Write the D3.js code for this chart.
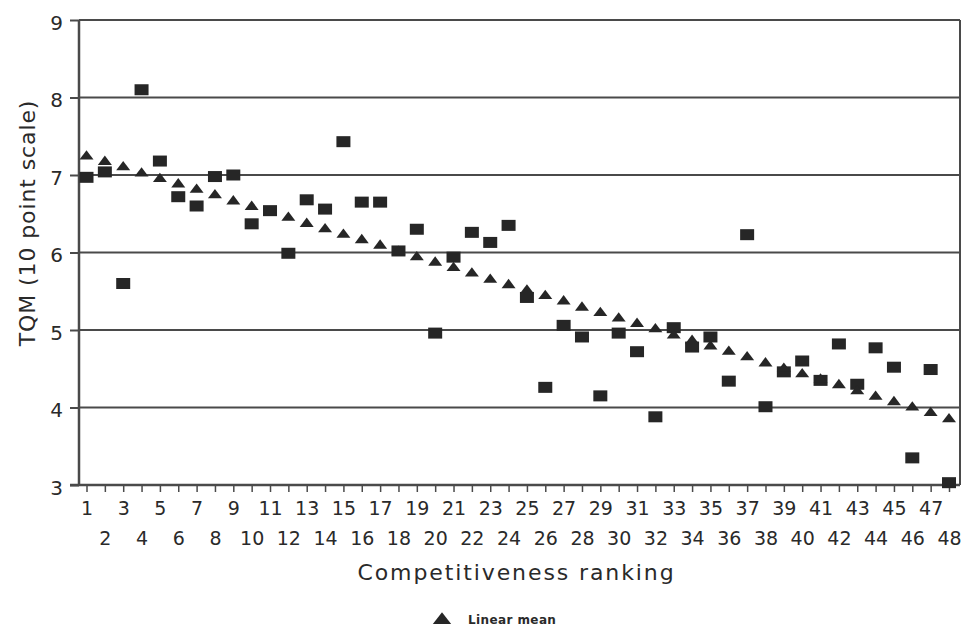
<!DOCTYPE html>
<html>
<head>
<meta charset="utf-8">
<script src="https://cdn.jsdelivr.net/npm/d3@7"></script>
<style>
  body { margin: 0; background: #fff; }
  svg text { font-family: "DejaVu Sans", sans-serif; fill: #2a2a2a; }
</style>
</head>
<body>
<div id="chart-container"></div>
<script>
// CATEGORIES: COMPETITIVENESS RANKING OF EACH COUNTRY
var rankings = [1, 2, 3, 4, 5, 6, 7, 8, 9, 10, 11, 12, 13, 14, 15, 16,
                17, 18, 19, 20, 21, 22, 23, 24, 25, 26, 27, 28, 29, 30, 31, 32,
                33, 34, 35, 36, 37, 38, 39, 40, 41, 42, 43, 44, 45, 46, 47, 48];

// TQM SCORES (SQUARES)
var tqmScores = [6.97, 7.04, 5.60, 8.10, 7.18, 6.72, 6.60, 6.98, 7.00, 6.37, 6.54, 5.99,
                 6.68, 6.56, 7.43, 6.65, 6.65, 6.02, 6.30, 4.96, 5.94, 6.26, 6.13, 6.35,
                 5.42, 4.26, 5.06, 4.91, 4.15, 4.96, 4.72, 3.88, 5.03, 4.78, 4.91, 4.34,
                 6.23, 4.01, 4.46, 4.60, 4.35, 4.82, 4.30, 4.77, 4.52, 3.35, 4.49, 3.03];

// LINEAR MEAN (TRIANGLES)
var linearMean = [7.24, 7.17, 7.10, 7.02, 6.95, 6.88, 6.81, 6.74, 6.66, 6.59, 6.52, 6.45,
                  6.37, 6.30, 6.23, 6.16, 6.09, 6.01, 5.94, 5.87, 5.80, 5.73, 5.65, 5.58,
                  5.51, 5.44, 5.37, 5.29, 5.22, 5.15, 5.08, 5.01, 4.93, 4.86, 4.79, 4.72,
                  4.65, 4.57, 4.50, 4.43, 4.36, 4.29, 4.21, 4.14, 4.07, 4.00, 3.93, 3.85];

var yTicks = [3, 4, 5, 6, 7, 8, 9];
var yLabel = "TQM (10 point scale)",
    xLabel = "Competitiveness ranking",
    legendLabel = "Linear mean";

// SIZES (NOTE: "top" IS TAKEN BY WINDOW.TOP, SO PLOT EDGES GET OWN NAMES)
var width = 964,
    height = 630,
    plotLeft = 79,
    plotRight = 960,
    plotTop = 20,
    plotBottom = 485;

var svg = d3.select("#chart-container")
  .append("svg")
    .attr("width", width)
    .attr("height", height);

var xScale = d3.scalePoint()
  .domain(rankings)
  .range([86.5, 949]);

var yScale = d3.scaleLinear()
  .domain([3, 9])
  .range([plotBottom, plotTop]);

// HORIZONTAL GRID LINES
svg.append("g")
  .selectAll("line")
  .data(yTicks.filter(function(d){ return d > 3; }))
  .enter().append("line")
    .attr("x1", plotLeft)
    .attr("x2", plotRight)
    .attr("y1", function(d){ return yScale(d); })
    .attr("y2", function(d){ return yScale(d); })
    .style("stroke", "#4a4a4a")
    .style("stroke-width", 2);

// RIGHT BORDER
svg.append("line")
  .attr("x1", plotRight).attr("x2", plotRight)
  .attr("y1", yScale(9)).attr("y2", yScale(3))
  .style("stroke", "#4a4a4a")
  .style("stroke-width", 2);

// Y AXIS
var yAxis = d3.axisLeft(yScale)
  .tickValues(yTicks)
  .tickFormat(d3.format("d"))
  .tickSize(9)
  .tickSizeOuter(0)
  .tickPadding(7);

var yGuide = svg.append("g")
  .attr("transform", "translate(" + plotLeft + ",0)")
  .call(yAxis);
yGuide.select(".domain").remove();
yGuide.selectAll("line").style("stroke", "#4a4a4a").style("stroke-width", 2);
yGuide.selectAll("text")
  .style("font-size", "20px")
  .attr("dy", "0.46em");

// X AXIS
var xAxis = d3.axisBottom(xScale)
  .tickSize(7)
  .tickSizeOuter(0);

var xGuide = svg.append("g")
  .attr("transform", "translate(0," + plotBottom + ")")
  .call(xAxis);
xGuide.select(".domain").remove();
xGuide.selectAll("line").style("stroke", "#4a4a4a").style("stroke-width", 1.5);
xGuide.selectAll("text")
  .style("font-size", "19px")
  .attr("y", function(d){ return d % 2 ? 17 : 47; });

// AXIS LINES
svg.append("line")
  .attr("x1", plotLeft).attr("x2", plotLeft)
  .attr("y1", yScale(9)).attr("y2", yScale(3))
  .style("stroke", "#4a4a4a")
  .style("stroke-width", 2.5);
svg.append("line")
  .attr("x1", plotLeft - 9).attr("x2", plotRight)
  .attr("y1", plotBottom).attr("y2", plotBottom)
  .style("stroke", "#4a4a4a")
  .style("stroke-width", 2.5);

// SQUARES
var sqW = 14, sqH = 11;
svg.append("g")
  .selectAll("rect")
  .data(tqmScores)
  .enter().append("rect")
    .attr("x", function(d, i){ return xScale(rankings[i]) - sqW / 2; })
    .attr("y", function(d){ return yScale(d) - sqH / 2; })
    .attr("width", sqW)
    .attr("height", sqH)
    .style("fill", "#262626");

// TRIANGLES
var tri = d3.symbol().type(d3.symbolTriangle).size(70);
svg.append("g")
  .selectAll("path")
  .data(linearMean)
  .enter().append("path")
    .attr("d", tri)
    .attr("transform", function(d, i){
      return "translate(" + xScale(rankings[i]) + "," + yScale(d) + ") scale(1.1,0.85)";
    })
    .style("fill", "#262626");

// AXIS TITLES
svg.append("text")
  .attr("x", (plotLeft + plotRight) / 2 - 3)
  .attr("y", 580)
  .attr("text-anchor", "middle")
  .style("font-size", "22px")
  .style("letter-spacing", "1.9px")
  .text(xLabel);

svg.append("text")
  .attr("transform", "translate(35,223) rotate(-90)")
  .attr("text-anchor", "middle")
  .style("font-size", "22px")
  .style("letter-spacing", "0.9px")
  .text(yLabel);

// LEGEND
svg.append("path")
  .attr("d", d3.symbol().type(d3.symbolTriangle).size(110))
  .attr("transform", "translate(442,620) scale(1.15,0.85)")
  .style("fill", "#262626");
svg.append("text")
  .attr("x", 468)
  .attr("y", 624)
  .style("font-size", "12px")
  .style("font-weight", "bold")
  .style("letter-spacing", "0.4px")
  .text(legendLabel);
</script>
</body>
</html>
